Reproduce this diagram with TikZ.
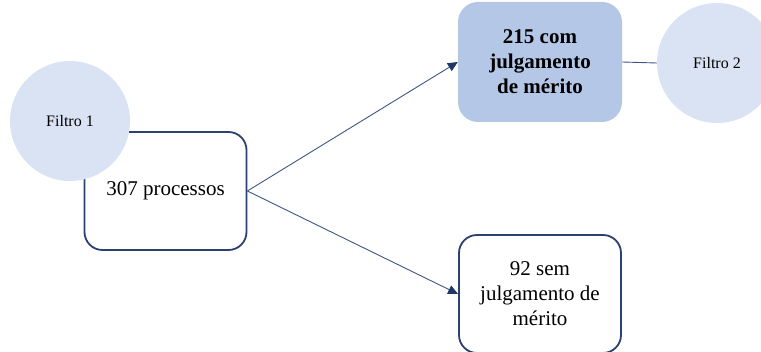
\documentclass[tikz,border=0pt]{standalone}
\usepackage{fontspec}
\setmainfont{Liberation Serif}
\usetikzlibrary{arrows.meta}

\definecolor{circfill}{HTML}{DAE3F3}
\definecolor{boxfill}{HTML}{B4C7E7}
\definecolor{boxline}{HTML}{2B4170}
\definecolor{conn}{HTML}{3E5684}
\definecolor{tipcol}{HTML}{1F3864}

\tikzset{
  outlinebox/.style={draw=boxline, line width=1.8pt, fill=white, rounded corners=18pt,
    minimum width=162pt, minimum height=118pt, align=center, inner sep=0pt,
    font=\fontsize{21}{25}\selectfont},
  filledbox/.style={fill=boxfill, rounded corners=20pt,
    minimum width=164pt, minimum height=120pt, align=center, inner sep=0pt,
    font=\bfseries\fontsize{21}{25}\selectfont},
  filtro/.style={circle, fill=circfill, minimum size=120pt, inner sep=0pt,
    font=\fontsize{16}{19}\selectfont},
  flow/.style={draw=conn, line width=0.9pt,
    -{Triangle[length=10pt,width=9pt,color=tipcol]}},
  plainlink/.style={draw=conn, line width=0.9pt},
}

\begin{document}
\begin{tikzpicture}[x=1pt, y=-1pt]
  \useasboundingbox (0,0) rectangle (761,352);
  \clip (0,0) rectangle (761,352);

  % start box and first filter (the circle sits over the box corner)
  \node[outlinebox] (proc) at (165.5,191) {307 processos};
  \node[filtro] (f1) at (70,121) {Filtro 1};

  % outcome boxes
  \node[filledbox] (com) at (540,62) {215 com\\julgamento\\de mérito};
  \node[outlinebox] (sem) at (540,294) {92 sem\\julgamento de\\mérito};

  % second filter
  \node[filtro] (f2) at (717,63) {Filtro 2};

  % connectors
  \draw[flow] (proc.east) -- (com.west);
  \draw[flow] (proc.east) -- (sem.west);
  \draw[plainlink] (com.east) -- (f2.west);
\end{tikzpicture}
\end{document}
